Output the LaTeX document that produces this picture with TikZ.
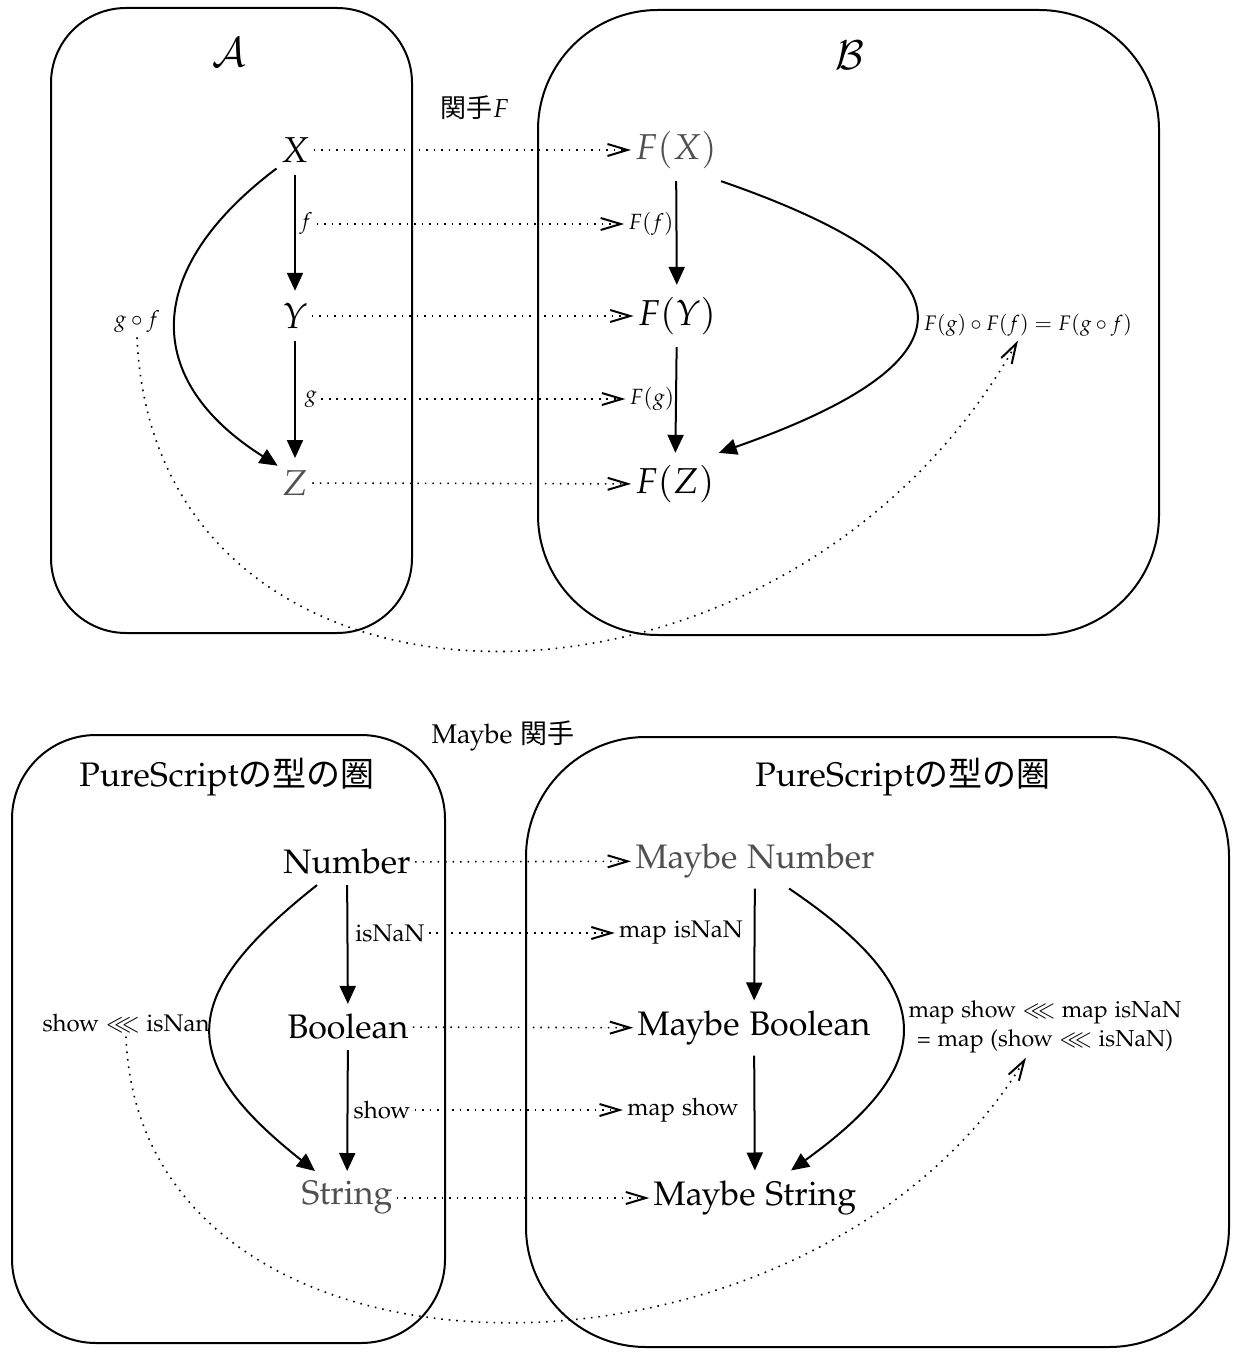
\documentclass[tikz,border=0pt]{standalone}
\usepackage[T1]{fontenc}
\usepackage{amssymb}
\usepackage{mathpazo}
\usepackage[no-math]{fontspec}
\newfontfamily\jp{Noto Sans CJK JP}
\usetikzlibrary{arrows.meta}
\newcommand\pal{\fontencoding{T1}\fontfamily{pplx}\selectfont}
\definecolor{gry}{RGB}{80,80,80}
\tikzset{
  box/.style={draw,line width=1pt},
  obj/.style={font=\pal\fontsize{18}{22}\selectfont, inner xsep=2pt, inner ysep=6pt},
  big/.style={font=\pal\fontsize{17}{20}\selectfont, inner xsep=2pt, inner ysep=5pt},
  lab/.style={font=\pal\fontsize{12}{14}\selectfont, inner sep=2pt},
  mlab/.style={font=\pal\fontsize{11}{13}\selectfont, inner sep=2pt},
  sarr/.style={line width=1pt, -{Triangle[length=9pt,width=8pt]}},
  darr/.style={line width=0.8pt, dash pattern=on 0.8pt off 2.95pt,
     -{Straight Barb[length=10pt,width=6pt,line width=1pt]}},
}
\begin{document}
\begin{tikzpicture}[x=0.5pt,y=-0.5pt]
\useasboundingbox (0,0) rectangle (1244,1358);
% ---------- top ----------
\draw[box,rounded corners=37.5pt] (51,8) rectangle (412,633);
\draw[box,rounded corners=60pt] (538,10) rectangle (1159,635);
\node[font=\fontsize{20}{24}\selectfont] (catA) at (229,52) {$\mathcal{A}$};
\node[font=\fontsize{20}{24}\selectfont] (catB) at (850,55) {$\mathcal{B}$};
\node[font=\pal\fontsize{13}{15}\selectfont] (functor) at (475,108) {{\jp 関手}$F$};

\node[obj] (X) at (295,150) {$X$};
\node[obj] (Y) at (295,316) {$Y$};
\node[obj,text=gry] (Z) at (295,483) {$Z$};
\node[obj,text=gry] (FX) at (676,150) {$F(X)$};
\node[obj] (FY) at (677,316) {$F(Y)$};
\node[obj] (FZ) at (675,484) {$F(Z)$};

\node[mlab] (f) at (306,224) {$f$};
\node[mlab] (g) at (311,399) {$g$};
\node[mlab] (Ff) at (651,224) {$F(f)$};
\node[mlab] (Fg) at (652,399) {$F(g)$};
\node[mlab] (gof) at (137,322) {$g\circ f$};
\node[font=\pal\fontsize{10.5}{13}\selectfont, inner sep=2pt] (Fgf) at (1028,325) {$F(g)\circ F(f) = F(g\circ f)$};

\draw[sarr] (X) -- (Y);
\draw[sarr] (Y) -- (Z);
\draw[sarr] (X.225) .. controls (142,270) and (142,380) .. (Z.135);
\draw[sarr] (FX) -- (FY);
\draw[sarr] (FY) -- (FZ);
\draw[sarr] (FX.south east) .. controls (981,271) and (981,361) .. (FZ.north east);

\draw[darr] (X) -- (FX);
\draw[darr] (f) -- (Ff);
\draw[darr] (Y) -- (FY);
\draw[darr] (g) -- (Fg);
\draw[darr] (Z) -- (FZ);
\draw[darr] (gof.south) .. controls (155,755) and (784,755) .. ([xshift=-5pt]Fgf.south);

% ---------- bottom ----------
\draw[box,rounded corners=42pt] (12,735) rectangle (445,1343);
\draw[box,rounded corners=60pt] (526,737) rectangle (1229,1347);
\node[big] (catL) at (227,777) {PureScript{\jp の型の圏}};
\node[big] (catR) at (903,777) {PureScript{\jp の型の圏}};
\node[font=\pal\fontsize{13.5}{15}\selectfont] (maybeF) at (503,736) {Maybe {\jp 関手}};

\node[big] (Num) at (347,862) {Number};
\node[big] (Bool) at (348,1027) {Boolean};
\node[big,text=gry] (Str) at (347,1198) {String};
\node[big,text=gry] (MNum) at (755,861) {Maybe Number};
\node[big] (MBool) at (754,1028) {Maybe Boolean};
\node[big] (MStr) at (755,1198) {Maybe String};

\node[lab] (isnan) at (390,933) {isNaN};
\node[lab] (mapisnan) at (681,933) {map isNaN};
\node[lab] (show) at (382,1110) {show};
\node[lab] (mapshow) at (683,1110) {map show};
\node[lab] (shownan) at (126,1023) {show $\lll$ isNan};
\node[font=\pal\fontsize{11.6}{14.5}\selectfont, inner sep=2pt, align=center] (eqlab) at (1045,1027) {map show $\lll$ map isNaN\\= map (show $\lll$ isNaN)};

\draw[sarr] (Num) -- (Bool);
\draw[sarr] (Bool) -- (Str);
\draw[sarr] ([xshift=-15pt]Num.south) .. controls (177,996) and (175,1060) .. ([xshift=-16pt]Str.north);
\draw[sarr] (MNum) -- (MBool);
\draw[sarr] (MBool) -- (MStr);
\draw[sarr] ([xshift=17pt]MNum.south) .. controls (939,990) and (940,1063) .. ([xshift=18pt]MStr.north);

\draw[darr] (Num) -- (MNum);
\draw[darr] (isnan) -- (mapisnan);
\draw[darr] (Bool) -- (MBool);
\draw[darr] (show) -- (mapshow);
\draw[darr] (Str) -- (MStr);
\draw[darr] (shownan.south) .. controls (140,1414) and (809,1414) .. ([xshift=-9.5pt]eqlab.south);
\end{tikzpicture}
\end{document}
